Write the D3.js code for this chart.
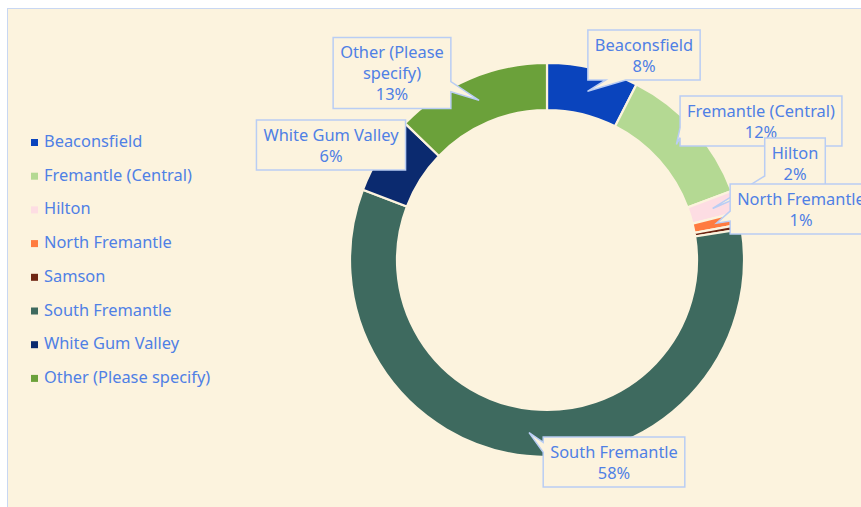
<!DOCTYPE html>
<html>
<head>
<meta charset="utf-8">
<script src="https://cdn.jsdelivr.net/npm/d3@7"></script>
<style>
  body { margin: 0; background: #ffffff; }
  svg text { font-family: "Noto Sans", "Open Sans", sans-serif; }
</style>
</head>
<body>
<div id="chart"></div>
<script>
// suburbs and their share of responses (%)
const suburbs = ["Beaconsfield", "Fremantle (Central)", "Hilton", "North Fremantle", "Samson", "South Fremantle", "White Gum Valley", "Other (Please specify)"];
const shares = [7.5, 11.8, 1.8, 1.0, 0.4, 58.3, 6.4, 12.8];
const colours = ["#0a44bd", "#b4d993", "#fddde3", "#ff7b3f", "#6e2512", "#3e6a5f", "#0b2a6f", "#6ba13a"];
// label lines for the callouts (Samson has none)
const labelLines = [["Beaconsfield"], ["Fremantle (Central)"], ["Hilton"], ["North Fremantle"], null, ["South Fremantle"], ["White Gum Valley"], ["Other (Please", "specify)"]];
// callout box centres
const labelPos = [[644, 55], [761, 121], [795, 163], [801, 209], null, [614, 462], [331, 145], [392, 73]];

const width = 861, height = 507;
const bg = "#fcf3de", textCol = "#4f80e5", boxCol = "#b9cdf4";
const cx = 547, cy = 260, rOuter = 197, rInner = 150;
const fontSize = 16.4;

const svg = d3.select("#chart").append("svg")
  .attr("width", width)
  .attr("height", height);

svg.append("rect")
  .attr("x", 7.5).attr("y", 8.5)
  .attr("width", width).attr("height", height)
  .attr("fill", bg)
  .attr("stroke", "#c8d7f2")
  .attr("stroke-width", 1);

const data = suburbs.map((s, i) => ({name: s, value: shares[i], colour: colours[i], lines: labelLines[i], pos: labelPos[i]}));
const total = d3.sum(shares);

const pie = d3.pie().value(d => d.value).sort(null);
const arc = d3.arc().innerRadius(rInner).outerRadius(rOuter);
const arcs = pie(data);

const g = svg.append("g").attr("transform", `translate(${cx},${cy})`);

g.selectAll("path.slice")
  .data(arcs)
  .enter()
  .append("path")
  .attr("class", "slice")
  .attr("d", arc)
  .attr("fill", d => d.data.colour)
  .attr("stroke", bg)
  .attr("stroke-width", 2.2);

// legend
const legend = svg.append("g").attr("transform", "translate(31,147)");
const rowH = 33.7;
data.forEach((d, i) => {
  const row = legend.append("g").attr("transform", `translate(0,${i * rowH})`);
  row.append("rect")
    .attr("x", 0).attr("y", -8)
    .attr("width", 7).attr("height", 7)
    .attr("fill", d.colour);
  row.append("text")
    .attr("x", 13).attr("y", 0)
    .attr("font-size", fontSize)
    .attr("fill", textCol)
    .text(d.name);
});

// callouts
const lineH = 21;
const callouts = svg.append("g");
arcs.forEach(a => {
  const d = a.data;
  if (!d.lines) return;
  const lines = d.lines.concat([Math.round(d.value / total * 100) + "%"]);
  const grp = callouts.append("g");
  const shape = grp.append("path");
  const texts = lines.map(l => grp.append("text")
    .attr("text-anchor", "middle")
    .attr("font-size", fontSize)
    .attr("fill", textCol)
    .text(l));
  const tw = d3.max(texts, t => t.node().getComputedTextLength());
  const bw = tw + 14, bh = lines.length * lineH + 8;
  const x0 = d.pos[0] - bw / 2, y0 = d.pos[1] - bh / 2, x1 = x0 + bw, y1 = y0 + bh;
  texts.forEach((t, i) => t.attr("x", d.pos[0]).attr("y", y0 + 20.5 + i * lineH));

  const c = arc.centroid(a);
  const tip = [cx + c[0], cy + c[1]];
  let pts = [[x0, y0], [x1, y0], [x1, y1], [x0, y1]];
  const inside = tip[0] > x0 && tip[0] < x1 && tip[1] > y0 && tip[1] < y1;
  if (!inside) {
    // pick edge facing the tip and put a pointer base on it
    const dx = tip[0] < x0 ? x0 - tip[0] : tip[0] > x1 ? tip[0] - x1 : 0;
    const dy = tip[1] < y0 ? y0 - tip[1] : tip[1] > y1 ? tip[1] - y1 : 0;
    const half = 10;
    if (dy >= dx) {
      const ex = Math.max(x0 + half + 4, Math.min(x1 - half - 4, tip[0] + (d.pos[0] - tip[0]) * 0.5));
      if (tip[1] > y1) pts = [[x0, y0], [x1, y0], [x1, y1], [ex + half, y1], tip, [ex - half, y1], [x0, y1]];
      else pts = [[x0, y0], [ex - half, y0], tip, [ex + half, y0], [x1, y0], [x1, y1], [x0, y1]];
    } else {
      const ey = Math.max(y0 + half / 2 + 2, Math.min(y1 - half / 2 - 2, tip[1] + (d.pos[1] - tip[1]) * 0.5));
      if (tip[0] < x0) pts = [[x0, y0], [x1, y0], [x1, y1], [x0, y1], [x0, ey + half / 2], tip, [x0, ey - half / 2]];
      else pts = [[x0, y0], [x1, y0], [x1, ey - half / 2], tip, [x1, ey + half / 2], [x1, y1], [x0, y1]];
    }
  }
  shape.attr("d", d3.line()(pts) + "Z")
    .attr("fill", bg)
    .attr("stroke", boxCol)
    .attr("stroke-width", 1.5);
});
</script>
</body>
</html>
